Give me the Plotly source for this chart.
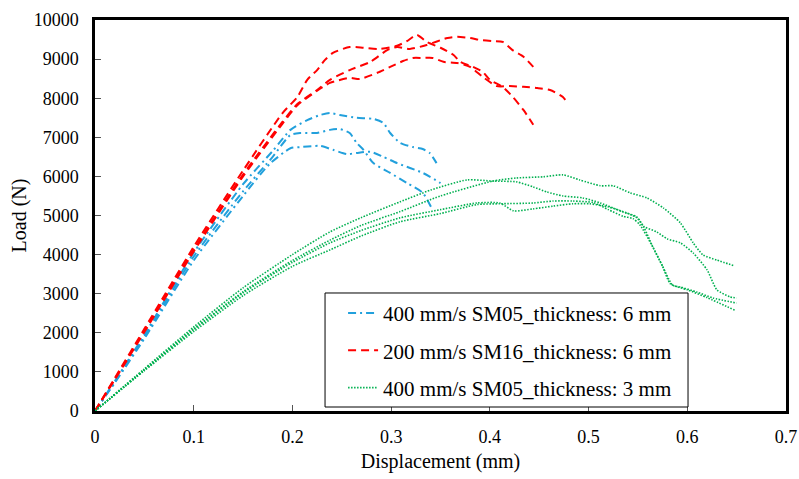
import plotly.graph_objects as go

# ---------------- data ----------------
# 400 mm/s SM05, thickness 6 mm (blue, dash-dot)
blue1_x = [0, 0.02, 0.05, 0.1, 0.15, 0.18, 0.198, 0.215, 0.228, 0.238, 0.248, 0.265, 0.282, 0.292, 0.299, 0.309, 0.322, 0.332, 0.339, 0.346]
blue1_y = [0, 760, 1950, 4050, 5800, 6650, 7190, 7440, 7570, 7620, 7570, 7500, 7470, 7370, 7110, 6860, 6750, 6700, 6600, 6340]
blue2_x = [0, 0.02, 0.05, 0.1, 0.15, 0.18, 0.198, 0.208, 0.225, 0.238, 0.248, 0.258, 0.265, 0.272, 0.282, 0.299, 0.316, 0.332, 0.342]
blue2_y = [0, 740, 1900, 3950, 5620, 6500, 7060, 7110, 7110, 7190, 7210, 7110, 6860, 6680, 6340, 6090, 5830, 5580, 5140]
blue3_x = [0, 0.02, 0.05, 0.1, 0.15, 0.177, 0.198, 0.208, 0.228, 0.241, 0.255, 0.265, 0.279, 0.292, 0.306, 0.332, 0.350]
blue3_y = [0, 720, 1850, 3850, 5500, 6320, 6720, 6750, 6780, 6680, 6570, 6600, 6630, 6500, 6340, 6090, 5830]

# 200 mm/s SM16, thickness 6 mm (red, dashed)
red1_x = [0, 0.02, 0.05, 0.1, 0.15, 0.19, 0.205, 0.215, 0.225, 0.233, 0.241, 0.258, 0.272, 0.287, 0.306, 0.316, 0.326, 0.336, 0.350, 0.363, 0.370, 0.383, 0.393, 0.400, 0.413, 0.423, 0.434, 0.444]
red1_y = [0, 840, 2100, 4200, 6150, 7620, 8030, 8470, 8720, 8980, 9160, 9310, 9290, 9260, 9340, 9460, 9620, 9440, 9290, 9110, 8930, 8800, 8670, 8470, 8290, 8040, 7700, 7320]
red2_x = [0, 0.02, 0.05, 0.1, 0.15, 0.19, 0.205, 0.225, 0.238, 0.258, 0.279, 0.296, 0.306, 0.319, 0.336, 0.357, 0.367, 0.380, 0.390, 0.403, 0.413, 0.423, 0.434, 0.444]
red2_y = [0, 820, 2050, 4130, 6050, 7400, 7850, 8210, 8470, 8720, 8930, 9230, 9310, 9260, 9360, 9540, 9570, 9540, 9490, 9460, 9440, 9230, 9060, 8800]
red3_x = [0, 0.02, 0.05, 0.1, 0.15, 0.19, 0.205, 0.225, 0.238, 0.258, 0.268, 0.286, 0.299, 0.312, 0.322, 0.332, 0.342, 0.353, 0.367, 0.380, 0.393, 0.407, 0.420, 0.434, 0.448, 0.461, 0.474, 0.478]
red3_y = [0, 800, 2020, 4080, 6000, 7350, 7820, 8190, 8390, 8520, 8490, 8650, 8800, 8950, 9030, 9030, 9030, 8930, 8900, 8800, 8540, 8310, 8310, 8290, 8260, 8210, 8030, 7900]

# 400 mm/s SM05, thickness 3 mm (green, dotted)
green1_x = [0, 0.05, 0.1, 0.15, 0.2, 0.238, 0.27, 0.309, 0.35, 0.403, 0.427, 0.454, 0.474, 0.491, 0.512, 0.525, 0.542, 0.559, 0.576, 0.593, 0.606, 0.616, 0.630, 0.648]
green1_y = [0, 1050, 2100, 3050, 3850, 4370, 4750, 5100, 5500, 5880, 5960, 5990, 6040, 5910, 5760, 5760, 5580, 5450, 5190, 4810, 4300, 3990, 3860, 3710]
green2_x = [0, 0.05, 0.1, 0.15, 0.2, 0.238, 0.27, 0.309, 0.34, 0.377, 0.403, 0.427, 0.444, 0.458, 0.474, 0.494, 0.512, 0.535, 0.549, 0.556, 0.565, 0.575, 0.585, 0.593, 0.610, 0.626, 0.650]
green2_y = [0, 1080, 2150, 3150, 4000, 4580, 4950, 5350, 5650, 5910, 5880, 5860, 5730, 5600, 5500, 5450, 5320, 5090, 4960, 4700, 4200, 3700, 3220, 3170, 3040, 2890, 2760]
green3_x = [0, 0.05, 0.1, 0.15, 0.2, 0.238, 0.27, 0.309, 0.35, 0.387, 0.41, 0.424, 0.444, 0.464, 0.484, 0.501, 0.52, 0.539, 0.549, 0.556, 0.569, 0.58, 0.593, 0.606, 0.62, 0.63, 0.643, 0.65]
green3_y = [0, 1050, 2080, 3020, 3800, 4300, 4620, 4940, 5150, 5320, 5320, 5120, 5170, 5240, 5300, 5300, 5220, 5060, 4940, 4720, 4580, 4400, 4300, 4040, 3610, 3100, 2920, 2890]
green4_x = [0, 0.05, 0.1, 0.15, 0.2, 0.238, 0.27, 0.309, 0.35, 0.387, 0.41, 0.444, 0.464, 0.484, 0.505, 0.52, 0.535, 0.545, 0.552, 0.565, 0.575, 0.583, 0.6, 0.62, 0.648]
green4_y = [0, 1030, 2030, 2950, 3700, 4120, 4480, 4840, 5050, 5280, 5300, 5320, 5370, 5370, 5330, 5150, 4980, 4920, 4760, 4200, 3700, 3250, 3100, 2900, 2580]

x_ticks = [0, 0.1, 0.2, 0.3, 0.4, 0.5, 0.6, 0.7]
x_tick_labels = ["0", "0.1", "0.2", "0.3", "0.4", "0.5", "0.6", "0.7"]
y_ticks = list(range(0, 10001, 1000))
y_tick_labels = [str(v) for v in y_ticks]

series = [
    ("400 mm/s SM05_thickness: 6 mm", "#22A0DC", "8px,4px,2px,4px", 2.0,
     [(blue1_x, blue1_y), (blue2_x, blue2_y), (blue3_x, blue3_y)]),
    ("200 mm/s SM16_thickness: 6 mm", "#FF0000", "8px,5px", 2.0,
     [(red1_x, red1_y), (red2_x, red2_y), (red3_x, red3_y)]),
    ("400 mm/s SM05_thickness: 3 mm", "#00B050", "1.5px,1.5px", 1.6,
     [(green1_x, green1_y), (green2_x, green2_y), (green3_x, green3_y), (green4_x, green4_y)]),
]

FONT = "Liberation Serif, Times New Roman, serif"

fig = go.Figure()
for gi, (name, color, dash, width, curves) in enumerate(series):
    for ci, (xs, ys) in enumerate(curves):
        fig.add_trace(go.Scatter(
            x=xs, y=ys, mode="lines", name=name,
            legendgroup=f"g{gi}", showlegend=(ci == 0),
            line=dict(color=color, dash=dash, width=width, shape="spline", smoothing=0.6),
            hoverinfo="skip",
        ))

axis_common = dict(
    showline=True, linecolor="black", linewidth=2.5, mirror=True,
    ticks="inside", ticklen=6, tickwidth=1, tickcolor="#555555",
    showgrid=False, zeroline=False, automargin=False,
    tickfont=dict(family=FONT, size=18, color="black"),
)

fig.update_layout(
    width=799, height=479,
    margin=dict(l=95, r=13, t=20, b=68, autoexpand=False),
    paper_bgcolor="white", plot_bgcolor="white",
    font=dict(family=FONT, color="black"),
    xaxis=dict(range=[0, 0.7], tickvals=x_ticks, ticktext=x_tick_labels,
               ticklabelstandoff=8,
               title=dict(text="Displacement (mm)", font=dict(family=FONT, size=20), standoff=8),
               **axis_common),
    yaxis=dict(range=[0, 10000], tickvals=y_ticks, ticktext=y_tick_labels,
               ticklabelstandoff=10,
               title=dict(text="Load (N)", font=dict(family=FONT, size=20), standoff=2),
               **axis_common),
    legend=dict(x=0.359, y=0.302, xanchor="left", yanchor="top",
                bgcolor="rgba(0,0,0,0)", borderwidth=0,
                font=dict(family=FONT, size=21, color="black"),
                traceorder="grouped", tracegroupgap=7),
    shapes=[dict(type="rect", xref="paper", yref="paper",
                 x0=0.3329, x1=0.8582, y0=0.0102, y1=0.3018,
                 line=dict(color="black", width=1), fillcolor="white", layer="above")],
)

# remove the browser's default 8px body margin so the figure fills the window exactly
fig.write_html(
    "out.html",
    config={"displayModeBar": False},
    post_script="document.body.style.margin='0';document.body.style.overflow='hidden';",
)
